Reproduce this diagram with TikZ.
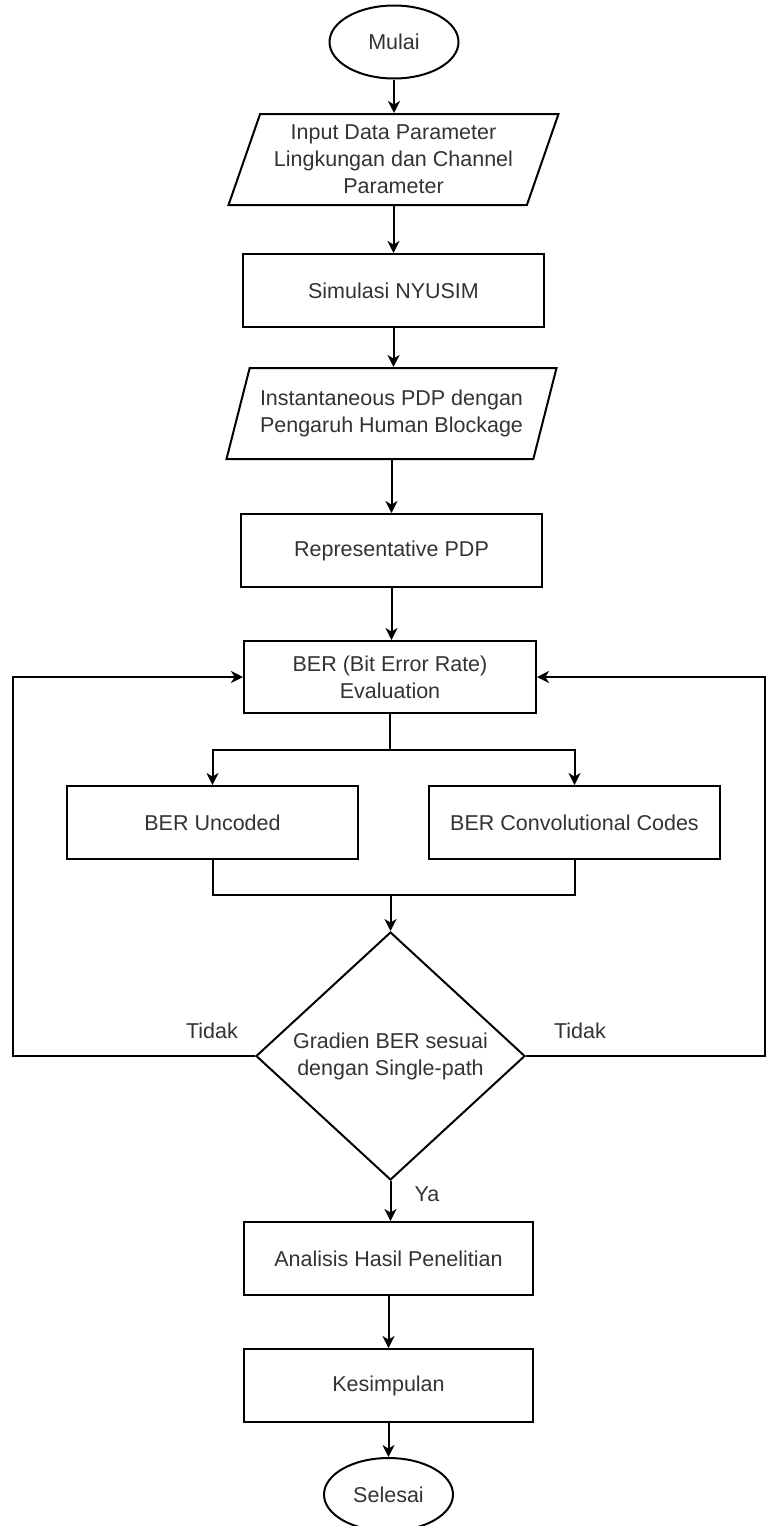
\documentclass[tikz,border=0pt]{standalone}
\usepackage{fontspec}
\setmainfont{Liberation Sans}
\usepackage{tikz}
\usetikzlibrary{shapes.geometric, arrows.meta}
\tikzset{
  every node/.style={font=\fontsize{10.75}{13.5}\selectfont, text=black!80, align=center},
  terminal/.style={draw, ellipse, minimum width=64.5pt, minimum height=36.5pt, inner sep=0pt},
  process/.style={draw, rectangle, minimum width=#1, minimum height=36.5pt},
  iobox/.style={draw, trapezium, trapezium left angle=69, trapezium right angle=111,
    trapezium stretches body, minimum width=165pt, minimum height=45.5pt},
  decision/.style={draw, diamond, aspect=1.085, minimum width=134.5pt, minimum height=124pt, inner sep=0pt},
  arr/.style={-{Stealth[length=6pt, width=6pt, inset=1.8pt]}}
}

\begin{document}
\begin{tikzpicture}[x=0.5pt, y=-0.5pt, line width=1pt]
  \useasboundingbox (0,0) rectangle (766,1526);
  \node[terminal] (mulai) at (394,42) {Mulai};
  \node[iobox] (input) at (393.5,159.5) {Input Data Parameter\\Lingkungan dan Channel\\Parameter};
  \node[process=150.5pt] (nyusim) at (393.5,290.5) {Simulasi NYUSIM};
  \node[iobox] (pdp) at (391.5,413.5) {Instantaneous PDP dengan\\Pengaruh Human Blockage};
  \node[process=150.5pt] (reppdp) at (391.5,550.5) {Representative PDP};
  \node[process=146pt, minimum height=36pt] (eval) at (390,677) {BER (Bit Error Rate)\\Evaluation};
  \node[process=145.5pt] (uncoded) at (212.5,822.5) {BER Uncoded};
  \node[process=145.5pt] (conv) at (574.5,822.5) {BER Convolutional Codes};
  \node[decision] (grad) at (390.5,1056) {Gradien BER sesuai\\dengan Single-path};
  \node[process=144.5pt] (analisis) at (388.5,1258.5) {Analisis Hasil Penelitian};
  \node[process=144.5pt] (kesimpulan) at (388.5,1385.5) {Kesimpulan};
  \node[terminal] (selesai) at (388.5,1494.5) {Selesai};
  \node (tidakL) at (212,1031) {Tidak};
  \node (tidakR) at (580,1031) {Tidak};
  \node (ya) at (427,1194) {Ya};
  \coordinate (split) at (390,750);
  \coordinate (join) at (390.5,895);
  \coordinate (loopL) at (13,1056);
  \coordinate (loopR) at (765,1056);

  \draw[arr] (mulai) -- (mulai |- input.north);
  \draw[arr] (input.south -| nyusim) -- (nyusim);
  \draw[arr] (nyusim) -- (nyusim |- pdp.north);
  \draw[arr] (pdp.south -| reppdp) -- (reppdp);
  \draw[arr] (reppdp) -- (reppdp |- eval.north);
  \draw (eval) -- (split);
  \draw[arr] (split) -| (uncoded);
  \draw[arr] (split) -| (conv);
  \draw (uncoded) |- (join);
  \draw (conv) |- (join);
  \draw[arr] (join) -- (grad);
  \draw[arr] (grad.west) -- (loopL) |- (eval.west);
  \draw[arr] (grad.east) -- (loopR) |- (eval.east);
  \draw[arr] (grad) -- (grad |- analisis.north);
  \draw[arr] (analisis) -- (kesimpulan);
  \draw[arr] (kesimpulan) -- (selesai);
\end{tikzpicture}
\end{document}
